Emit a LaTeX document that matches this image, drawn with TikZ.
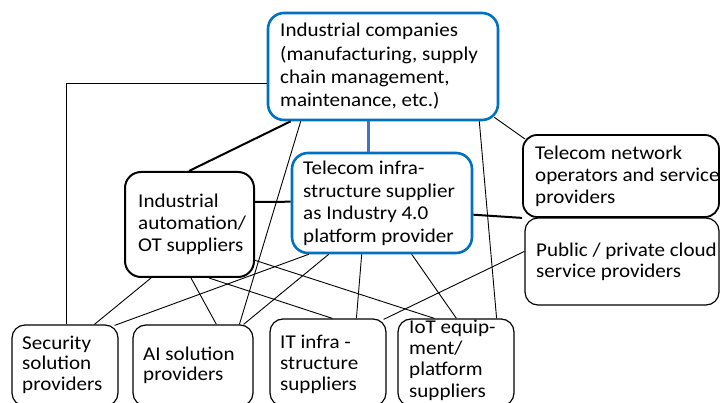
\documentclass[tikz,border=0pt]{standalone}
\usepackage{fontspec}
\setmainfont{Carlito}[FakeStretch=1.08]
\usetikzlibrary{fit,calc}
\definecolor{boxblue}{HTML}{0070C0}
\definecolor{linkblue}{HTML}{4472C4}
\begin{document}
\begin{tikzpicture}[x=1pt,y=-1pt,
  bluebox/.style={draw=boxblue, line width=2.6pt, rounded corners=16pt, inner sep=0pt},
  thickbox/.style={draw=black, line width=2pt, rounded corners=16pt, inner sep=0pt},
  midbox/.style={draw=black, line width=1.8pt, rounded corners=14pt, inner sep=0pt},
  thinbox/.style={draw=black, line width=1.2pt, rounded corners=13pt, inner sep=0pt},
  txt/.style={anchor=base west, inner sep=0pt, font=\fontsize{19.5}{22.5}\selectfont},
  link/.style={draw=black, line width=0.9pt},
  heavylink/.style={draw=black, line width=2pt},
  bluelink/.style={draw=linkblue, line width=3pt}]
\clip (0,0) rectangle (720,403);
% boxes
\node[bluebox, fit={(268,13) (498,120)}] (ic) {};
\node[bluebox, fit={(292,153) (472,253)}] (tis) {};
\node[thickbox, fit={(125,172) (254,277)}] (ia) {};
\node[midbox, fit={(523,135) (719,217)}] (tno) {};
\node[thinbox, fit={(525,218) (719,305)}] (cloud) {};
\node[thinbox, fit={(12,325) (118,406)}] (sec) {};
\node[thinbox, fit={(133,325) (253,406)}] (ai) {};
\node[thinbox, fit={(270,319) (386,406)}] (it) {};
\node[thinbox, fit={(398,319) (514,406)}] (iot) {};
% connectors
\draw[bluelink] ($(ic.south west)+(102,0)$) -- ($(tis.north west)+(78,0)$);
\draw[heavylink] ($(ic.south west)+(24,0)$) -- ($(ia.north west)+(65,0)$);
\draw[link, line width=1.2pt] ($(ic.north west)+(0,72)$) -| ($(sec.north west)+(55,0)$);
\draw[link] ($(ic.south east)+(-5,-4)$) -- ($(tno.north west)+(3,5)$);
\draw[link] ($(ic.south west)+(34,0)$) -- ($(ai.north west)+(107,0)$);
\draw[link] ($(ic.south east)+(-20,0)$) -- ($(iot.north east)+(-18,0)$);
\draw[heavylink] ($(ia.north east)+(0,31)$) -- ($(tis.north west)+(0,50)$);
\draw[heavylink] ($(tis.north east)+(0,63)$) -- (tno.south west);
\draw[link] ($(cloud.north west)+(0,34)$) -- ($(it.north east)+(-3,1)$);
\draw[link] ($(tis.south west)+(18,0)$) -- ($(sec.north east)+(-4,1)$);
\draw[link] ($(tis.south west)+(38,0)$) -- ($(ai.north east)+(-10,0)$);
\draw[link] ($(tis.south west)+(71,0)$) -- ($(it.north west)+(87,0)$);
\draw[link] ($(tis.south west)+(121,0)$) -- ($(iot.north west)+(59,0)$);
\draw[link] ($(ia.south west)+(27,0)$) -- ($(sec.north west)+(83,0)$);
\draw[link] ($(ia.south west)+(67,0)$) -- ($(ai.north west)+(84,0)$);
\draw[link] ($(ia.south west)+(85,0)$) -- ($(it.north west)+(63,0)$);
\draw[link] ($(ia.south east)+(-1,-18)$) -- ($(iot.north west)+(37,0)$);
% texts
\node[txt] (ict) at (280,37) {\parbox[t]{220pt}{\baselineskip=23.3pt\raggedright Industrial companies\\(manufacturing, supply\\chain management,\\maintenance, etc.)}};
\node[txt] (tist) at (303,175) {\parbox[t]{170pt}{\raggedright Telecom infra-\\structure supplier\\as Industry 4.0\\platform provider}};
\node[txt] (iat) at (138,208) {\parbox[t]{120pt}{\baselineskip=22pt\raggedright Industrial\\automation/\\OT suppliers}};
\node[txt] (tnot) at (535,160) {\parbox[t]{185pt}{\baselineskip=22pt\raggedright Telecom network\\operators and service\\providers}};
\node[txt] (cloudt) at (536,257) {\parbox[t]{185pt}{\baselineskip=21pt\raggedright Public / private cloud\\service providers}};
\node[txt] (sect) at (22,349) {\parbox[t]{100pt}{\baselineskip=20.5pt\raggedright Security\\solution\\providers}};
\node[txt] (ait) at (143,360) {\parbox[t]{110pt}{\baselineskip=20.5pt\raggedright AI solution\\providers}};
\node[txt] (itt) at (280,348) {\parbox[t]{110pt}{\baselineskip=21pt\raggedright IT infra -\\structure\\suppliers}};
\node[txt] (iott) at (409,333) {\parbox[t]{110pt}{\baselineskip=21.5pt\raggedright IoT equip-\\ment/\\platform\\suppliers}};
\end{tikzpicture}
\end{document}
